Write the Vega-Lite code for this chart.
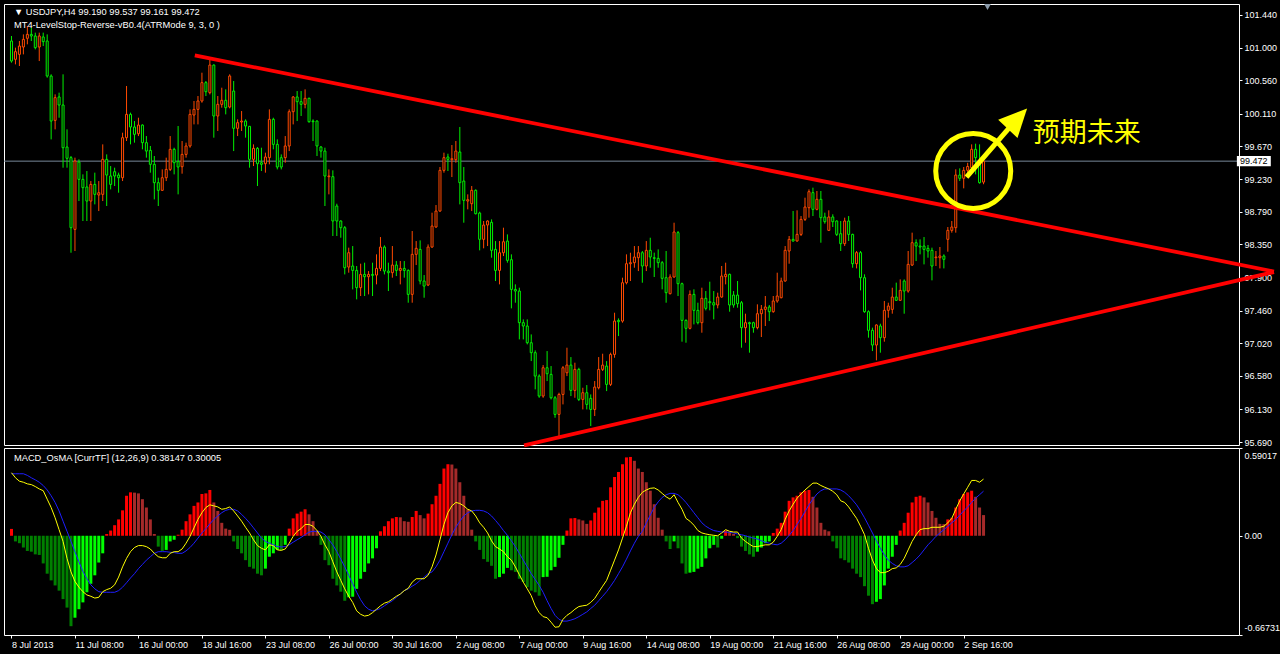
{
"$schema": "https://vega.github.io/schema/vega-lite/v6.json",
"background": "#000000",
"padding": {"left": 3, "top": 3, "right": 2, "bottom": 8},
"spacing": 3,
"bounds": "flush",
"config": {
 "view": {"stroke": "#FFFFFF", "strokeWidth": 1},
 "axis": {"labelFont": "Liberation Sans", "labelFontSize": 9, "labelColor": "#FFFFFF", "tickColor": "#FFFFFF", "tickSize": 3, "labelPadding": 2, "domain": false, "grid": false}
},
"datasets": {
"bars": [
{"i":0,"o":101.090,"h":101.157,"l":100.798,"c":100.820,"d":0.046,"m":0.424,"s":0.417},
{"i":1,"o":100.843,"h":101.000,"l":100.775,"c":100.946,"d":-0.038,"m":0.390,"s":0.417},
{"i":2,"o":100.910,"h":101.090,"l":100.753,"c":101.022,"d":-0.050,"m":0.367,"s":0.417},
{"i":3,"o":101.009,"h":101.179,"l":100.910,"c":101.112,"d":-0.079,"m":0.360,"s":0.417},
{"i":4,"o":101.126,"h":101.292,"l":101.045,"c":101.179,"d":-0.102,"m":0.349,"s":0.406},
{"i":5,"o":101.179,"h":101.269,"l":101.090,"c":101.157,"d":-0.107,"m":0.344,"s":0.390},
{"i":6,"o":101.157,"h":101.202,"l":100.977,"c":101.000,"d":-0.125,"m":0.331,"s":0.376},
{"i":7,"o":101.009,"h":101.202,"l":100.820,"c":101.157,"d":-0.129,"m":0.315,"s":0.360},
{"i":8,"o":101.144,"h":101.202,"l":101.022,"c":101.081,"d":-0.186,"m":0.303,"s":0.338},
{"i":9,"o":101.090,"h":101.179,"l":100.596,"c":100.618,"d":-0.255,"m":0.246,"s":0.308},
{"i":10,"o":100.618,"h":100.641,"l":99.765,"c":100.012,"d":-0.300,"m":0.190,"s":0.269},
{"i":11,"o":100.021,"h":100.371,"l":99.900,"c":100.327,"d":-0.334,"m":0.121,"s":0.224},
{"i":12,"o":100.336,"h":100.394,"l":100.057,"c":100.228,"d":-0.369,"m":0.041,"s":0.167},
{"i":13,"o":100.228,"h":100.641,"l":99.384,"c":99.653,"d":-0.426,"m":-0.038,"s":0.098},
{"i":14,"o":99.662,"h":99.900,"l":99.384,"c":99.510,"d":-0.483,"m":-0.152,"s":0.030},
{"i":15,"o":99.519,"h":99.541,"l":98.239,"c":98.576,"d":-0.608,"m":-0.243,"s":-0.038},
{"i":16,"o":98.553,"h":99.519,"l":98.262,"c":99.474,"d":-0.551,"m":-0.307,"s":-0.107},
{"i":17,"o":99.460,"h":99.496,"l":98.935,"c":99.227,"d":-0.494,"m":-0.346,"s":-0.175},
{"i":18,"o":99.227,"h":99.294,"l":98.666,"c":99.115,"d":-0.448,"m":-0.376,"s":-0.239},
{"i":19,"o":99.124,"h":99.339,"l":98.666,"c":98.935,"d":-0.380,"m":-0.398,"s":-0.289},
{"i":20,"o":98.935,"h":99.204,"l":98.666,"c":99.159,"d":-0.323,"m":-0.407,"s":-0.330},
{"i":21,"o":99.159,"h":99.317,"l":98.890,"c":99.025,"d":-0.266,"m":-0.419,"s":-0.357},
{"i":22,"o":99.016,"h":99.204,"l":98.800,"c":99.047,"d":-0.180,"m":-0.414,"s":-0.376},
{"i":23,"o":99.025,"h":99.698,"l":98.935,"c":99.496,"d":-0.118,"m":-0.376,"s":-0.380},
{"i":24,"o":99.496,"h":99.563,"l":98.868,"c":99.285,"d":0.012,"m":-0.362,"s":-0.380},
{"i":25,"o":99.272,"h":99.406,"l":99.092,"c":99.159,"d":0.035,"m":-0.353,"s":-0.380},
{"i":26,"o":99.330,"h":99.384,"l":99.137,"c":99.272,"d":0.071,"m":-0.330,"s":-0.380},
{"i":27,"o":99.285,"h":99.317,"l":99.047,"c":99.249,"d":0.110,"m":-0.278,"s":-0.369},
{"i":28,"o":99.249,"h":99.855,"l":99.204,"c":99.788,"d":0.171,"m":-0.209,"s":-0.346},
{"i":29,"o":99.788,"h":100.484,"l":99.743,"c":100.102,"d":0.269,"m":-0.152,"s":-0.316},
{"i":30,"o":100.102,"h":100.125,"l":99.698,"c":99.932,"d":0.292,"m":-0.107,"s":-0.284},
{"i":31,"o":99.932,"h":100.012,"l":99.721,"c":99.833,"d":0.290,"m":-0.079,"s":-0.255},
{"i":32,"o":99.841,"h":100.057,"l":99.810,"c":99.958,"d":0.285,"m":-0.066,"s":-0.221},
{"i":33,"o":99.958,"h":99.967,"l":99.631,"c":99.721,"d":0.246,"m":-0.066,"s":-0.193},
{"i":34,"o":99.721,"h":99.810,"l":99.519,"c":99.608,"d":0.190,"m":-0.073,"s":-0.164},
{"i":35,"o":99.617,"h":99.676,"l":99.317,"c":99.429,"d":0.110,"m":-0.089,"s":-0.141},
{"i":36,"o":99.429,"h":99.541,"l":98.957,"c":99.182,"d":0.012,"m":-0.118,"s":-0.118},
{"i":37,"o":99.182,"h":99.249,"l":98.868,"c":99.079,"d":-0.073,"m":-0.141,"s":-0.107},
{"i":38,"o":99.079,"h":99.361,"l":99.070,"c":99.249,"d":-0.102,"m":-0.148,"s":-0.107},
{"i":39,"o":99.249,"h":99.519,"l":99.204,"c":99.361,"d":-0.095,"m":-0.148,"s":-0.107},
{"i":40,"o":99.361,"h":99.810,"l":99.339,"c":99.631,"d":-0.038,"m":-0.118,"s":-0.111},
{"i":41,"o":99.631,"h":99.653,"l":99.294,"c":99.451,"d":-0.027,"m":-0.107,"s":-0.113},
{"i":42,"o":99.465,"h":99.945,"l":99.025,"c":99.393,"d":0.007,"m":-0.107,"s":-0.118},
{"i":43,"o":99.397,"h":99.743,"l":99.303,"c":99.563,"d":0.041,"m":-0.089,"s":-0.118},
{"i":44,"o":99.563,"h":99.721,"l":99.519,"c":99.676,"d":0.098,"m":-0.050,"s":-0.102},
{"i":45,"o":99.676,"h":100.169,"l":99.653,"c":100.102,"d":0.144,"m":-0.004,"s":-0.079},
{"i":46,"o":100.093,"h":100.282,"l":99.967,"c":100.169,"d":0.201,"m":0.053,"s":-0.050},
{"i":47,"o":100.169,"h":100.349,"l":99.967,"c":100.282,"d":0.224,"m":0.110,"s":-0.016},
{"i":48,"o":100.282,"h":100.663,"l":100.259,"c":100.529,"d":0.281,"m":0.155,"s":0.019},
{"i":49,"o":100.529,"h":100.551,"l":100.349,"c":100.407,"d":0.285,"m":0.190,"s":0.048},
{"i":50,"o":100.394,"h":100.843,"l":100.371,"c":100.766,"d":0.308,"m":0.208,"s":0.080},
{"i":51,"o":100.766,"h":100.775,"l":99.788,"c":100.080,"d":0.224,"m":0.201,"s":0.110},
{"i":52,"o":100.080,"h":100.349,"l":99.878,"c":100.237,"d":0.167,"m":0.194,"s":0.133},
{"i":53,"o":100.237,"h":100.461,"l":100.192,"c":100.291,"d":0.087,"m":0.178,"s":0.155},
{"i":54,"o":100.291,"h":100.439,"l":100.102,"c":100.192,"d":0.048,"m":0.183,"s":0.171},
{"i":55,"o":100.201,"h":100.641,"l":100.183,"c":100.618,"d":0.040,"m":0.194,"s":0.178},
{"i":56,"o":100.416,"h":100.551,"l":99.608,"c":99.914,"d":-0.038,"m":0.167,"s":0.178},
{"i":57,"o":99.914,"h":100.035,"l":99.810,"c":99.990,"d":-0.089,"m":0.133,"s":0.167},
{"i":58,"o":99.999,"h":100.147,"l":99.878,"c":100.012,"d":-0.118,"m":0.098,"s":0.144},
{"i":59,"o":100.012,"h":100.035,"l":99.788,"c":99.945,"d":-0.164,"m":0.057,"s":0.117},
{"i":60,"o":99.941,"h":99.945,"l":99.384,"c":99.496,"d":-0.209,"m":0.019,"s":0.087},
{"i":61,"o":99.496,"h":99.698,"l":99.406,"c":99.644,"d":-0.221,"m":-0.027,"s":0.053},
{"i":62,"o":99.644,"h":99.662,"l":99.137,"c":99.438,"d":-0.255,"m":-0.066,"s":0.019},
{"i":63,"o":99.451,"h":99.653,"l":99.339,"c":99.429,"d":-0.266,"m":-0.084,"s":-0.016},
{"i":64,"o":99.438,"h":99.586,"l":99.317,"c":99.528,"d":-0.221,"m":-0.095,"s":-0.038},
{"i":65,"o":99.519,"h":100.169,"l":99.429,"c":100.035,"d":-0.141,"m":-0.061,"s":-0.050},
{"i":66,"o":100.035,"h":100.057,"l":99.631,"c":99.698,"d":-0.118,"m":-0.066,"s":-0.061},
{"i":67,"o":99.698,"h":99.765,"l":99.361,"c":99.393,"d":-0.095,"m":-0.095,"s":-0.073},
{"i":68,"o":99.519,"h":99.563,"l":99.361,"c":99.393,"d":-0.098,"m":-0.098,"s":-0.075},
{"i":69,"o":99.519,"h":99.810,"l":99.451,"c":99.676,"d":-0.061,"m":-0.089,"s":-0.073},
{"i":70,"o":99.676,"h":100.169,"l":99.608,"c":100.138,"d":0.048,"m":-0.050,"s":-0.061},
{"i":71,"o":100.138,"h":100.349,"l":99.967,"c":100.336,"d":0.117,"m":-0.004,"s":-0.043},
{"i":72,"o":100.336,"h":100.416,"l":100.012,"c":100.273,"d":0.149,"m":0.030,"s":-0.027},
{"i":73,"o":100.273,"h":100.416,"l":100.080,"c":100.237,"d":0.162,"m":0.048,"s":-0.011},
{"i":74,"o":100.237,"h":100.439,"l":100.183,"c":100.318,"d":0.178,"m":0.076,"s":0.007},
{"i":75,"o":100.318,"h":100.327,"l":99.990,"c":100.003,"d":0.144,"m":0.076,"s":0.025},
{"i":76,"o":100.012,"h":100.035,"l":99.743,"c":100.003,"d":0.098,"m":0.064,"s":0.030},
{"i":77,"o":100.012,"h":100.021,"l":99.541,"c":99.676,"d":0.035,"m":0.035,"s":0.030},
{"i":78,"o":99.662,"h":99.676,"l":99.519,"c":99.608,"d":-0.061,"m":-0.004,"s":0.025},
{"i":79,"o":99.608,"h":99.653,"l":98.868,"c":99.272,"d":-0.164,"m":-0.061,"s":0.007},
{"i":80,"o":99.263,"h":99.361,"l":99.025,"c":99.272,"d":-0.198,"m":-0.107,"s":-0.027},
{"i":81,"o":99.263,"h":99.348,"l":98.464,"c":98.666,"d":-0.289,"m":-0.175,"s":-0.061},
{"i":82,"o":98.868,"h":98.899,"l":98.464,"c":98.666,"d":-0.334,"m":-0.243,"s":-0.107},
{"i":83,"o":98.666,"h":98.675,"l":98.441,"c":98.576,"d":-0.376,"m":-0.300,"s":-0.157},
{"i":84,"o":98.576,"h":98.598,"l":97.947,"c":98.037,"d":-0.437,"m":-0.357,"s":-0.209},
{"i":85,"o":98.046,"h":98.307,"l":97.970,"c":98.239,"d":-0.414,"m":-0.407,"s":-0.266},
{"i":86,"o":98.060,"h":98.329,"l":97.745,"c":98.001,"d":-0.410,"m":-0.448,"s":-0.323},
{"i":87,"o":98.001,"h":98.060,"l":97.611,"c":97.768,"d":-0.357,"m":-0.505,"s":-0.380},
{"i":88,"o":97.768,"h":98.091,"l":97.656,"c":97.947,"d":-0.289,"m":-0.528,"s":-0.430},
{"i":89,"o":97.947,"h":98.105,"l":97.656,"c":97.916,"d":-0.243,"m":-0.540,"s":-0.471},
{"i":90,"o":97.916,"h":97.992,"l":97.678,"c":97.947,"d":-0.186,"m":-0.535,"s":-0.494},
{"i":91,"o":97.947,"h":98.105,"l":97.656,"c":97.934,"d":-0.152,"m":-0.517,"s":-0.505},
{"i":92,"o":97.938,"h":98.217,"l":97.813,"c":98.028,"d":-0.084,"m":-0.494,"s":-0.499},
{"i":93,"o":98.028,"h":98.450,"l":97.992,"c":98.315,"d":0.030,"m":-0.471,"s":-0.489},
{"i":94,"o":98.315,"h":98.338,"l":97.947,"c":97.992,"d":0.064,"m":-0.453,"s":-0.471},
{"i":95,"o":97.992,"h":98.105,"l":97.723,"c":97.970,"d":0.098,"m":-0.444,"s":-0.453},
{"i":96,"o":97.970,"h":98.329,"l":97.903,"c":98.073,"d":0.117,"m":-0.426,"s":-0.437},
{"i":97,"o":98.073,"h":98.127,"l":97.925,"c":98.001,"d":0.126,"m":-0.407,"s":-0.414},
{"i":98,"o":98.001,"h":98.127,"l":97.813,"c":98.028,"d":0.124,"m":-0.392,"s":-0.392},
{"i":99,"o":98.028,"h":98.127,"l":97.903,"c":98.001,"d":0.098,"m":-0.369,"s":-0.369},
{"i":100,"o":98.001,"h":98.015,"l":97.566,"c":97.678,"d":0.094,"m":-0.353,"s":-0.357},
{"i":101,"o":97.678,"h":98.531,"l":97.566,"c":98.217,"d":0.126,"m":-0.312,"s":-0.339},
{"i":102,"o":98.217,"h":98.396,"l":98.073,"c":98.298,"d":0.167,"m":-0.289,"s":-0.323},
{"i":103,"o":98.284,"h":98.405,"l":97.813,"c":97.858,"d":0.139,"m":-0.289,"s":-0.300},
{"i":104,"o":97.858,"h":97.938,"l":97.633,"c":97.790,"d":0.117,"m":-0.289,"s":-0.278},
{"i":105,"o":97.804,"h":98.351,"l":97.790,"c":98.315,"d":0.149,"m":-0.266,"s":-0.255},
{"i":106,"o":98.315,"h":98.778,"l":98.307,"c":98.598,"d":0.212,"m":-0.209,"s":-0.243},
{"i":107,"o":98.585,"h":98.881,"l":98.576,"c":98.800,"d":0.269,"m":-0.129,"s":-0.209},
{"i":108,"o":98.800,"h":99.393,"l":98.791,"c":99.348,"d":0.349,"m":-0.027,"s":-0.164},
{"i":109,"o":99.348,"h":99.586,"l":99.317,"c":99.519,"d":0.452,"m":0.076,"s":-0.107},
{"i":110,"o":99.528,"h":99.572,"l":99.339,"c":99.496,"d":0.481,"m":0.155,"s":-0.050},
{"i":111,"o":99.492,"h":99.689,"l":99.258,"c":99.505,"d":0.479,"m":0.201,"s":0.007},
{"i":112,"o":99.492,"h":99.743,"l":99.451,"c":99.608,"d":0.452,"m":0.224,"s":0.057},
{"i":113,"o":99.595,"h":99.932,"l":98.890,"c":99.182,"d":0.360,"m":0.217,"s":0.098},
{"i":114,"o":99.204,"h":99.393,"l":98.643,"c":98.944,"d":0.269,"m":0.201,"s":0.133},
{"i":115,"o":98.935,"h":99.025,"l":98.823,"c":98.953,"d":0.178,"m":0.178,"s":0.155},
{"i":116,"o":98.899,"h":99.137,"l":98.800,"c":99.079,"d":0.041,"m":0.167,"s":0.167},
{"i":117,"o":99.079,"h":99.092,"l":98.755,"c":98.764,"d":-0.038,"m":0.133,"s":0.171},
{"i":118,"o":98.773,"h":98.791,"l":98.271,"c":98.419,"d":-0.095,"m":0.087,"s":0.171},
{"i":119,"o":98.419,"h":98.666,"l":98.298,"c":98.612,"d":-0.157,"m":0.057,"s":0.167},
{"i":120,"o":98.612,"h":98.675,"l":98.329,"c":98.666,"d":-0.175,"m":0.019,"s":0.155},
{"i":121,"o":98.648,"h":98.688,"l":98.172,"c":98.271,"d":-0.202,"m":-0.034,"s":0.133},
{"i":122,"o":98.284,"h":98.396,"l":97.858,"c":98.001,"d":-0.289,"m":-0.073,"s":0.103},
{"i":123,"o":98.001,"h":98.396,"l":97.813,"c":98.239,"d":-0.278,"m":-0.089,"s":0.071},
{"i":124,"o":98.239,"h":98.576,"l":98.194,"c":98.387,"d":-0.255,"m":-0.107,"s":0.035},
{"i":125,"o":98.396,"h":98.486,"l":98.105,"c":98.136,"d":-0.216,"m":-0.141,"s":0.003},
{"i":126,"o":98.145,"h":98.217,"l":97.490,"c":97.745,"d":-0.232,"m":-0.164,"s":-0.034},
{"i":127,"o":97.745,"h":97.813,"l":97.566,"c":97.723,"d":-0.243,"m":-0.209,"s":-0.073},
{"i":128,"o":97.723,"h":97.768,"l":97.072,"c":97.297,"d":-0.289,"m":-0.262,"s":-0.118},
{"i":129,"o":97.297,"h":97.341,"l":97.072,"c":97.252,"d":-0.312,"m":-0.312,"s":-0.164},
{"i":130,"o":97.252,"h":97.341,"l":97.005,"c":97.027,"d":-0.346,"m":-0.357,"s":-0.209},
{"i":131,"o":97.027,"h":97.139,"l":96.780,"c":96.893,"d":-0.369,"m":-0.403,"s":-0.255},
{"i":132,"o":96.893,"h":96.924,"l":96.399,"c":96.578,"d":-0.380,"m":-0.471,"s":-0.294},
{"i":133,"o":96.578,"h":96.601,"l":96.286,"c":96.309,"d":-0.403,"m":-0.517,"s":-0.334},
{"i":134,"o":96.309,"h":96.726,"l":96.286,"c":96.690,"d":-0.278,"m":-0.544,"s":-0.380},
{"i":135,"o":96.690,"h":96.915,"l":96.511,"c":96.610,"d":-0.276,"m":-0.551,"s":-0.437},
{"i":136,"o":96.601,"h":96.713,"l":96.264,"c":96.286,"d":-0.232,"m":-0.581,"s":-0.489},
{"i":137,"o":96.286,"h":96.309,"l":96.017,"c":96.062,"d":-0.209,"m":-0.615,"s":-0.535},
{"i":138,"o":96.062,"h":96.354,"l":95.770,"c":96.331,"d":-0.148,"m":-0.612,"s":-0.562},
{"i":139,"o":96.331,"h":96.713,"l":96.197,"c":96.690,"d":-0.061,"m":-0.562,"s":-0.574},
{"i":140,"o":96.623,"h":96.960,"l":96.578,"c":96.726,"d":0.035,"m":-0.535,"s":-0.574},
{"i":141,"o":96.726,"h":96.834,"l":96.309,"c":96.385,"d":0.117,"m":-0.517,"s":-0.567},
{"i":142,"o":96.385,"h":96.758,"l":96.286,"c":96.668,"d":0.119,"m":-0.494,"s":-0.558},
{"i":143,"o":96.668,"h":96.690,"l":96.242,"c":96.264,"d":0.110,"m":-0.476,"s":-0.544},
{"i":144,"o":96.264,"h":96.421,"l":96.129,"c":96.354,"d":0.103,"m":-0.471,"s":-0.528},
{"i":145,"o":96.354,"h":96.457,"l":96.129,"c":96.197,"d":0.080,"m":-0.467,"s":-0.512},
{"i":146,"o":96.278,"h":96.331,"l":95.905,"c":96.129,"d":0.103,"m":-0.448,"s":-0.489},
{"i":147,"o":96.129,"h":96.511,"l":96.040,"c":96.430,"d":0.155,"m":-0.421,"s":-0.467},
{"i":148,"o":96.421,"h":96.834,"l":96.399,"c":96.668,"d":0.190,"m":-0.380,"s":-0.437},
{"i":149,"o":96.668,"h":96.879,"l":96.646,"c":96.726,"d":0.235,"m":-0.339,"s":-0.407},
{"i":150,"o":96.713,"h":96.780,"l":96.376,"c":96.466,"d":0.240,"m":-0.300,"s":-0.376},
{"i":151,"o":96.466,"h":96.893,"l":96.444,"c":96.870,"d":0.326,"m":-0.232,"s":-0.339},
{"i":152,"o":96.870,"h":97.431,"l":96.825,"c":97.319,"d":0.395,"m":-0.164,"s":-0.300},
{"i":153,"o":97.328,"h":97.355,"l":97.117,"c":97.310,"d":0.429,"m":-0.095,"s":-0.255},
{"i":154,"o":97.319,"h":97.903,"l":97.297,"c":97.835,"d":0.481,"m":-0.016,"s":-0.209},
{"i":155,"o":97.835,"h":98.217,"l":97.813,"c":98.091,"d":0.527,"m":0.064,"s":-0.157},
{"i":156,"o":98.091,"h":98.239,"l":97.858,"c":98.105,"d":0.530,"m":0.155,"s":-0.102},
{"i":157,"o":98.105,"h":98.329,"l":98.037,"c":98.181,"d":0.504,"m":0.212,"s":-0.050},
{"i":158,"o":98.172,"h":98.329,"l":97.992,"c":98.239,"d":0.452,"m":0.258,"s":-0.004},
{"i":159,"o":98.239,"h":98.262,"l":97.835,"c":98.060,"d":0.429,"m":0.292,"s":0.030},
{"i":160,"o":98.060,"h":98.396,"l":97.992,"c":98.271,"d":0.360,"m":0.308,"s":0.087},
{"i":161,"o":98.271,"h":98.441,"l":98.037,"c":98.181,"d":0.303,"m":0.319,"s":0.139},
{"i":162,"o":98.172,"h":98.240,"l":97.912,"c":98.163,"d":0.212,"m":0.322,"s":0.190},
{"i":163,"o":98.163,"h":98.284,"l":98.037,"c":98.105,"d":0.121,"m":0.308,"s":0.228},
{"i":164,"o":98.105,"h":98.127,"l":97.746,"c":97.894,"d":0.041,"m":0.285,"s":0.258},
{"i":165,"o":97.903,"h":98.262,"l":97.566,"c":97.701,"d":-0.038,"m":0.262,"s":0.276},
{"i":166,"o":97.687,"h":97.948,"l":97.678,"c":97.912,"d":-0.089,"m":0.246,"s":0.285},
{"i":167,"o":97.912,"h":98.643,"l":97.903,"c":98.518,"d":-0.038,"m":0.276,"s":0.285},
{"i":168,"o":98.509,"h":98.531,"l":97.656,"c":97.822,"d":-0.084,"m":0.224,"s":0.276},
{"i":169,"o":97.822,"h":97.836,"l":97.041,"c":97.328,"d":-0.186,"m":0.178,"s":0.253},
{"i":170,"o":97.328,"h":97.342,"l":97.027,"c":97.221,"d":-0.255,"m":0.117,"s":0.224},
{"i":171,"o":97.221,"h":97.732,"l":97.207,"c":97.678,"d":-0.248,"m":0.098,"s":0.190},
{"i":172,"o":97.678,"h":97.746,"l":97.274,"c":97.463,"d":-0.243,"m":0.071,"s":0.155},
{"i":173,"o":97.463,"h":97.566,"l":97.274,"c":97.297,"d":-0.221,"m":0.035,"s":0.121},
{"i":174,"o":97.297,"h":97.768,"l":97.162,"c":97.625,"d":-0.209,"m":0.019,"s":0.087},
{"i":175,"o":97.625,"h":97.723,"l":97.463,"c":97.490,"d":-0.152,"m":0.012,"s":0.064},
{"i":176,"o":97.580,"h":97.849,"l":97.463,"c":97.566,"d":-0.084,"m":0.007,"s":0.048},
{"i":177,"o":97.566,"h":97.723,"l":97.342,"c":97.535,"d":-0.061,"m":0.003,"s":0.035},
{"i":178,"o":97.535,"h":97.701,"l":97.490,"c":97.642,"d":-0.079,"m":0.000,"s":0.030},
{"i":179,"o":97.642,"h":98.060,"l":97.633,"c":97.925,"d":-0.020,"m":0.019,"s":0.025},
{"i":180,"o":97.916,"h":98.105,"l":97.813,"c":97.948,"d":0.035,"m":0.041,"s":0.025},
{"i":181,"o":97.948,"h":97.957,"l":97.445,"c":97.535,"d":0.025,"m":0.030,"s":0.023},
{"i":182,"o":97.669,"h":97.723,"l":97.499,"c":97.535,"d":0.012,"m":0.025,"s":0.019},
{"i":183,"o":97.669,"h":97.858,"l":97.499,"c":97.553,"d":-0.016,"m":0.025,"s":0.012},
{"i":184,"o":97.566,"h":97.589,"l":96.960,"c":97.230,"d":-0.073,"m":-0.016,"s":0.007},
{"i":185,"o":97.230,"h":97.418,"l":97.027,"c":97.297,"d":-0.102,"m":-0.038,"s":0.000},
{"i":186,"o":97.297,"h":97.310,"l":96.893,"c":97.283,"d":-0.125,"m":-0.057,"s":-0.009},
{"i":187,"o":97.297,"h":97.310,"l":97.162,"c":97.230,"d":-0.141,"m":-0.073,"s":-0.016},
{"i":188,"o":97.230,"h":97.544,"l":97.207,"c":97.418,"d":-0.107,"m":-0.073,"s":-0.022},
{"i":189,"o":97.418,"h":97.535,"l":97.104,"c":97.476,"d":-0.079,"m":-0.066,"s":-0.034},
{"i":190,"o":97.476,"h":97.656,"l":97.252,"c":97.508,"d":-0.050,"m":-0.061,"s":-0.043},
{"i":191,"o":97.508,"h":97.535,"l":97.319,"c":97.445,"d":-0.038,"m":-0.061,"s":-0.050},
{"i":192,"o":97.445,"h":97.656,"l":97.431,"c":97.589,"d":0.019,"m":-0.043,"s":-0.057},
{"i":193,"o":97.589,"h":97.970,"l":97.566,"c":97.656,"d":0.048,"m":-0.004,"s":-0.061},
{"i":194,"o":97.633,"h":97.903,"l":97.625,"c":97.858,"d":0.087,"m":0.041,"s":-0.050},
{"i":195,"o":97.858,"h":98.329,"l":97.849,"c":98.271,"d":0.162,"m":0.110,"s":-0.027},
{"i":196,"o":98.262,"h":98.464,"l":98.091,"c":98.419,"d":0.235,"m":0.167,"s":0.003},
{"i":197,"o":98.419,"h":98.801,"l":98.388,"c":98.397,"d":0.258,"m":0.212,"s":0.035},
{"i":198,"o":98.397,"h":98.810,"l":98.388,"c":98.486,"d":0.269,"m":0.253,"s":0.076},
{"i":199,"o":98.486,"h":98.733,"l":98.464,"c":98.688,"d":0.292,"m":0.281,"s":0.117},
{"i":200,"o":98.688,"h":98.980,"l":98.666,"c":98.854,"d":0.303,"m":0.308,"s":0.162},
{"i":201,"o":98.845,"h":99.092,"l":98.711,"c":99.061,"d":0.308,"m":0.331,"s":0.208},
{"i":202,"o":99.048,"h":99.115,"l":98.733,"c":98.823,"d":0.262,"m":0.354,"s":0.246},
{"i":203,"o":98.823,"h":99.070,"l":98.810,"c":98.958,"d":0.190,"m":0.354,"s":0.281},
{"i":204,"o":98.958,"h":99.070,"l":98.374,"c":98.711,"d":0.087,"m":0.338,"s":0.303},
{"i":205,"o":98.720,"h":98.778,"l":98.630,"c":98.657,"d":0.041,"m":0.326,"s":0.315},
{"i":206,"o":98.540,"h":98.810,"l":98.531,"c":98.720,"d":0.030,"m":0.315,"s":0.315},
{"i":207,"o":98.720,"h":98.756,"l":98.585,"c":98.657,"d":-0.038,"m":0.299,"s":0.315},
{"i":208,"o":98.666,"h":98.675,"l":98.464,"c":98.486,"d":-0.084,"m":0.276,"s":0.315},
{"i":209,"o":98.495,"h":98.666,"l":98.262,"c":98.361,"d":-0.152,"m":0.235,"s":0.308},
{"i":210,"o":98.361,"h":98.711,"l":98.329,"c":98.666,"d":-0.164,"m":0.224,"s":0.292},
{"i":211,"o":98.666,"h":98.733,"l":98.397,"c":98.486,"d":-0.180,"m":0.194,"s":0.269},
{"i":212,"o":98.486,"h":98.495,"l":98.037,"c":98.091,"d":-0.221,"m":0.155,"s":0.240},
{"i":213,"o":98.091,"h":98.262,"l":98.028,"c":98.240,"d":-0.255,"m":0.117,"s":0.208},
{"i":214,"o":98.240,"h":98.262,"l":97.732,"c":97.903,"d":-0.278,"m":0.064,"s":0.167},
{"i":215,"o":97.903,"h":97.948,"l":97.431,"c":97.445,"d":-0.339,"m":0.007,"s":0.121},
{"i":216,"o":97.445,"h":97.463,"l":97.095,"c":97.194,"d":-0.403,"m":-0.084,"s":0.071},
{"i":217,"o":97.194,"h":97.230,"l":96.915,"c":96.996,"d":-0.460,"m":-0.164,"s":0.019},
{"i":218,"o":96.996,"h":97.274,"l":96.790,"c":97.266,"d":-0.444,"m":-0.221,"s":-0.034},
{"i":219,"o":97.252,"h":97.283,"l":96.893,"c":97.095,"d":-0.426,"m":-0.248,"s":-0.084},
{"i":220,"o":97.095,"h":97.589,"l":97.041,"c":97.463,"d":-0.334,"m":-0.248,"s":-0.129},
{"i":221,"o":97.463,"h":97.566,"l":97.364,"c":97.521,"d":-0.221,"m":-0.239,"s":-0.164},
{"i":222,"o":97.476,"h":97.768,"l":97.418,"c":97.642,"d":-0.141,"m":-0.221,"s":-0.186},
{"i":223,"o":97.642,"h":97.836,"l":97.589,"c":97.598,"d":-0.061,"m":-0.216,"s":-0.202},
{"i":224,"o":97.598,"h":97.880,"l":97.589,"c":97.732,"d":0.035,"m":-0.193,"s":-0.209},
{"i":225,"o":97.858,"h":97.880,"l":97.418,"c":97.723,"d":0.087,"m":-0.152,"s":-0.209},
{"i":226,"o":97.723,"h":98.262,"l":97.701,"c":98.082,"d":0.155,"m":-0.095,"s":-0.202},
{"i":227,"o":98.073,"h":98.509,"l":98.060,"c":98.374,"d":0.224,"m":-0.038,"s":-0.180},
{"i":228,"o":98.374,"h":98.419,"l":98.127,"c":98.329,"d":0.262,"m":0.007,"s":-0.157},
{"i":229,"o":98.329,"h":98.419,"l":98.217,"c":98.316,"d":0.269,"m":0.041,"s":-0.129},
{"i":230,"o":98.329,"h":98.450,"l":98.082,"c":98.284,"d":0.258,"m":0.048,"s":-0.095},
{"i":231,"o":98.298,"h":98.343,"l":98.172,"c":98.262,"d":0.224,"m":0.048,"s":-0.061},
{"i":232,"o":98.271,"h":98.307,"l":97.867,"c":98.060,"d":0.167,"m":0.057,"s":-0.034},
{"i":233,"o":98.172,"h":98.262,"l":98.060,"c":98.181,"d":0.121,"m":0.057,"s":-0.004},
{"i":234,"o":98.172,"h":98.316,"l":98.028,"c":98.195,"d":0.080,"m":0.057,"s":0.019},
{"i":235,"o":98.195,"h":98.217,"l":98.028,"c":98.150,"d":0.078,"m":0.064,"s":0.041},
{"i":236,"o":98.419,"h":98.585,"l":98.253,"c":98.540,"d":0.110,"m":0.087,"s":0.064},
{"i":237,"o":98.540,"h":98.666,"l":98.509,"c":98.585,"d":0.121,"m":0.117,"s":0.087},
{"i":238,"o":98.576,"h":99.362,"l":98.509,"c":99.285,"d":0.190,"m":0.178,"s":0.110},
{"i":239,"o":99.285,"h":99.375,"l":99.205,"c":99.241,"d":0.246,"m":0.235,"s":0.139},
{"i":240,"o":99.241,"h":99.393,"l":99.106,"c":99.348,"d":0.281,"m":0.281,"s":0.167},
{"i":241,"o":99.348,"h":99.450,"l":99.300,"c":99.400,"d":0.292,"m":0.326,"s":0.194},
{"i":242,"o":99.384,"h":99.698,"l":99.362,"c":99.631,"d":0.303,"m":0.372,"s":0.224},
{"i":243,"o":99.631,"h":99.707,"l":99.294,"c":99.519,"d":0.262,"m":0.372,"s":0.253},
{"i":244,"o":99.452,"h":99.698,"l":99.169,"c":99.182,"d":0.190,"m":0.360,"s":0.276},
{"i":245,"o":99.190,"h":99.537,"l":99.161,"c":99.472,"d":0.139,"m":0.381,"s":0.300}
]
},
"vconcat": [
{
 "width": 1235,
 "height": 441,
 "layer": [
  {
   "data": {"values": [{"p": 99.472}]},
   "mark": {"type": "rule", "color": "#778899", "strokeWidth": 1},
   "encoding": {"y": {"field": "p", "type": "quantitative", "scale": {"domain": [95.65, 101.588], "nice": false, "zero": false},
      "axis": {"orient": "right", "title": null, "values": [95.69, 96.13, 96.58, 97.02, 97.46, 97.9, 98.35, 98.79, 99.23, 99.67, 100.11, 100.56, 101.0, 101.44], "format": ".3f", "labelFlush": false, "labelBound": false, "labelOverlap": false, "tickSize": 3, "labelPadding": 2}}}
  },
  {
   "data": {"name": "bars"},
   "mark": {"type": "rule", "strokeWidth": 1},
   "encoding": {
    "x": {"field": "i", "type": "quantitative", "scale": {"domain": [-0.625, 308.125], "nice": false, "zero": false}, "axis": null},
    "y": {"field": "l", "type": "quantitative", "scale": {"domain": [95.65, 101.588], "nice": false, "zero": false},
      "axis": {"orient": "right", "title": null, "values": [95.69, 96.13, 96.58, 97.02, 97.46, 97.9, 98.35, 98.79, 99.23, 99.67, 100.11, 100.56, 101.0, 101.44], "format": ".3f", "labelFlush": false, "labelBound": false, "labelOverlap": false, "tickSize": 3, "labelPadding": 2}},
    "y2": {"field": "h"},
    "color": {"condition": {"test": "datum.c >= datum.o", "value": "#FF4A00"}, "value": "#00F000"}
   }
  },
  {
   "data": {"name": "bars"},
   "mark": {"type": "bar", "size": 2, "fill": "#000000", "strokeWidth": 1},
   "encoding": {
    "x": {"field": "i", "type": "quantitative", "scale": {"domain": [-0.625, 308.125], "nice": false, "zero": false}, "axis": null},
    "y": {"field": "o", "type": "quantitative", "scale": {"domain": [95.65, 101.588], "nice": false, "zero": false},
      "axis": {"orient": "right", "title": null, "values": [95.69, 96.13, 96.58, 97.02, 97.46, 97.9, 98.35, 98.79, 99.23, 99.67, 100.11, 100.56, 101.0, 101.44], "format": ".3f", "labelFlush": false, "labelBound": false, "labelOverlap": false, "tickSize": 3, "labelPadding": 2}},
    "y2": {"field": "c"},
    "stroke": {"condition": {"test": "datum.c >= datum.o", "value": "#FF4A00"}, "value": "#00F000"}
   }
  },
  {
   "data": {"values": [{"x": 0.625, "y": 101.48, "t": "▼ USDJPY,H4  99.190 99.537 99.161 99.472"}, {"x": 0.625, "y": 101.305, "t": "MT4-LevelStop-Reverse-vB0.4(ATRMode 9, 3, 0 )"}]},
   "mark": {"type": "text", "color": "#FFFFFF", "font": "Liberation Sans", "fontSize": 9.3, "align": "left", "baseline": "middle"},
   "encoding": {
    "x": {"field": "x", "type": "quantitative", "scale": {"domain": [-0.625, 308.125], "nice": false, "zero": false}, "axis": null},
    "y": {"field": "y", "type": "quantitative", "scale": {"domain": [95.65, 101.588], "nice": false, "zero": false},
      "axis": {"orient": "right", "title": null, "values": [95.69, 96.13, 96.58, 97.02, 97.46, 97.9, 98.35, 98.79, 99.23, 99.67, 100.11, 100.56, 101.0, 101.44], "format": ".3f", "labelFlush": false, "labelBound": false, "labelOverlap": false, "tickSize": 3, "labelPadding": 2}},
    "text": {"field": "t"}
   }
  },
  {
   "data": {"values": [{"x": 46.2, "y": 100.897, "x2": 318.2, "y2": 97.986}, {"x": 129.2, "y": 95.646, "x2": 318.2, "y2": 97.979}]},
   "mark": {"type": "rule", "color": "#FF0000", "strokeWidth": 3.8, "clip": false},
   "encoding": {
    "x": {"field": "x", "type": "quantitative", "scale": {"domain": [-0.625, 308.125], "nice": false, "zero": false}, "axis": null},
    "x2": {"field": "x2"},
    "y": {"field": "y", "type": "quantitative", "scale": {"domain": [95.65, 101.588], "nice": false, "zero": false},
      "axis": {"orient": "right", "title": null, "values": [95.69, 96.13, 96.58, 97.02, 97.46, 97.9, 98.35, 98.79, 99.23, 99.67, 100.11, 100.56, 101.0, 101.44], "format": ".3f", "labelFlush": false, "labelBound": false, "labelOverlap": false, "tickSize": 3, "labelPadding": 2}},
    "y2": {"field": "y2"}
   }
  },
  {
   "data": {"values": [{"x": 308.85, "x2": 317.4, "y": 99.402, "y2": 99.542}]},
   "mark": {"type": "rect", "fill": "#FFFFFF", "clip": false},
   "encoding": {
    "x": {"field": "x", "type": "quantitative", "scale": {"domain": [-0.625, 308.125], "nice": false, "zero": false}, "axis": null},
    "x2": {"field": "x2"},
    "y": {"field": "y", "type": "quantitative", "scale": {"domain": [95.65, 101.588], "nice": false, "zero": false},
      "axis": {"orient": "right", "title": null, "values": [95.69, 96.13, 96.58, 97.02, 97.46, 97.9, 98.35, 98.79, 99.23, 99.67, 100.11, 100.56, 101.0, 101.44], "format": ".3f", "labelFlush": false, "labelBound": false, "labelOverlap": false, "tickSize": 3, "labelPadding": 2}},
    "y2": {"field": "y2"}
   }
  },
  {
   "data": {"values": [{"x": 313.1, "p": 99.472, "t": "99.472"}]},
   "mark": {"type": "text", "color": "#000000", "font": "Liberation Sans", "fontSize": 9, "align": "center", "baseline": "middle", "clip": false},
   "encoding": {
    "x": {"field": "x", "type": "quantitative", "scale": {"domain": [-0.625, 308.125], "nice": false, "zero": false}, "axis": null},
    "y": {"field": "p", "type": "quantitative", "scale": {"domain": [95.65, 101.588], "nice": false, "zero": false},
      "axis": {"orient": "right", "title": null, "values": [95.69, 96.13, 96.58, 97.02, 97.46, 97.9, 98.35, 98.79, 99.23, 99.67, 100.11, 100.56, 101.0, 101.44], "format": ".3f", "labelFlush": false, "labelBound": false, "labelOverlap": false, "tickSize": 3, "labelPadding": 2}},
    "text": {"field": "t"}
   }
  },
  {
   "data": {"values": [{"x": 242.4, "y": 99.339}]},
   "mark": {"type": "point", "shape": "circle", "size": 5625, "filled": false, "color": "#FFFF00", "strokeWidth": 5, "opacity": 1},
   "encoding": {
    "x": {"field": "x", "type": "quantitative", "scale": {"domain": [-0.625, 308.125], "nice": false, "zero": false}, "axis": null},
    "y": {"field": "y", "type": "quantitative", "scale": {"domain": [95.65, 101.588], "nice": false, "zero": false},
      "axis": {"orient": "right", "title": null, "values": [95.69, 96.13, 96.58, 97.02, 97.46, 97.9, 98.35, 98.79, 99.23, 99.67, 100.11, 100.56, 101.0, 101.44], "format": ".3f", "labelFlush": false, "labelBound": false, "labelOverlap": false, "tickSize": 3, "labelPadding": 2}}
   }
  },
  {
   "data": {"values": [{"x": 240.7, "y": 99.258, "x2": 251.3, "y2": 99.91}]},
   "mark": {"type": "rule", "color": "#FFFF00", "strokeWidth": 5, "strokeCap": "butt"},
   "encoding": {
    "x": {"field": "x", "type": "quantitative", "scale": {"domain": [-0.625, 308.125], "nice": false, "zero": false}, "axis": null},
    "x2": {"field": "x2"},
    "y": {"field": "y", "type": "quantitative", "scale": {"domain": [95.65, 101.588], "nice": false, "zero": false},
      "axis": {"orient": "right", "title": null, "values": [95.69, 96.13, 96.58, 97.02, 97.46, 97.9, 98.35, 98.79, 99.23, 99.67, 100.11, 100.56, 101.0, 101.44], "format": ".3f", "labelFlush": false, "labelBound": false, "labelOverlap": false, "tickSize": 3, "labelPadding": 2}},
    "y2": {"field": "y2"}
   }
  },
  {
   "data": {"values": [{"x": 253.55, "y": 100.044}]},
   "mark": {"type": "point", "shape": "M0,-1L0.95,1L-0.95,1Z", "size": 784, "filled": true, "color": "#FFFF00", "opacity": 1, "angle": 43.5},
   "encoding": {
    "x": {"field": "x", "type": "quantitative", "scale": {"domain": [-0.625, 308.125], "nice": false, "zero": false}, "axis": null},
    "y": {"field": "y", "type": "quantitative", "scale": {"domain": [95.65, 101.588], "nice": false, "zero": false},
      "axis": {"orient": "right", "title": null, "values": [95.69, 96.13, 96.58, 97.02, 97.46, 97.9, 98.35, 98.79, 99.23, 99.67, 100.11, 100.56, 101.0, 101.44], "format": ".3f", "labelFlush": false, "labelBound": false, "labelOverlap": false, "tickSize": 3, "labelPadding": 2}}
   }
  },
  {
   "data": {"values": [{"x": 257.4, "y": 99.831, "t": "预期未来"}]},
   "mark": {"type": "text", "color": "#FFFF00", "font": "Noto Sans CJK SC", "fontSize": 27, "align": "left", "baseline": "middle"},
   "encoding": {
    "x": {"field": "x", "type": "quantitative", "scale": {"domain": [-0.625, 308.125], "nice": false, "zero": false}, "axis": null},
    "y": {"field": "y", "type": "quantitative", "scale": {"domain": [95.65, 101.588], "nice": false, "zero": false},
      "axis": {"orient": "right", "title": null, "values": [95.69, 96.13, 96.58, 97.02, 97.46, 97.9, 98.35, 98.79, 99.23, 99.67, 100.11, 100.56, 101.0, 101.44], "format": ".3f", "labelFlush": false, "labelBound": false, "labelOverlap": false, "tickSize": 3, "labelPadding": 2}},
    "text": {"field": "t"}
   }
  },
  {
   "data": {"values": [{"x": 246, "y": 101.548}]},
   "mark": {"type": "point", "shape": "triangle-down", "size": 45, "filled": true, "color": "#8A9AAA", "opacity": 1},
   "encoding": {
    "x": {"field": "x", "type": "quantitative", "scale": {"domain": [-0.625, 308.125], "nice": false, "zero": false}, "axis": null},
    "y": {"field": "y", "type": "quantitative", "scale": {"domain": [95.65, 101.588], "nice": false, "zero": false},
      "axis": {"orient": "right", "title": null, "values": [95.69, 96.13, 96.58, 97.02, 97.46, 97.9, 98.35, 98.79, 99.23, 99.67, 100.11, 100.56, 101.0, 101.44], "format": ".3f", "labelFlush": false, "labelBound": false, "labelOverlap": false, "tickSize": 3, "labelPadding": 2}}
   }
  }
 ]
},
{
 "width": 1235,
 "height": 187,
 "layer": [
  {
   "data": {"name": "bars"},
   "transform": [
    {"window": [{"op": "lag", "field": "d", "as": "pd"}], "sort": [{"field": "i", "order": "ascending"}]},
    {"calculate": "datum.d >= 0 ? ((datum.pd == null || datum.d >= datum.pd) ? 'up+' : 'dn+') : ((datum.pd == null || datum.d >= datum.pd) ? 'up-' : 'dn-')", "as": "k"}
   ],
   "mark": {"type": "bar", "size": 3},
   "encoding": {
    "x": {"field": "i", "type": "quantitative", "scale": {"domain": [-0.625, 308.125], "nice": false, "zero": false},
          "axis": {"orient": "bottom", "title": null, "values": [0, 16, 32, 48, 64, 80, 96, 112, 128, 144, 160, 176, 192, 208, 224, 240], "labelExpr": "['8 Jul 2013','11 Jul 08:00','16 Jul 00:00','18 Jul 16:00','23 Jul 08:00','26 Jul 00:00','30 Jul 16:00','2 Aug 08:00','7 Aug 00:00','9 Aug 16:00','14 Aug 08:00','19 Aug 00:00','21 Aug 16:00','26 Aug 08:00','29 Aug 00:00','2 Sep 16:00'][round(datum.value / 16)]", "labelAlign": "left", "labelBaseline": "top", "labelFlush": false, "labelBound": false, "labelOverlap": false, "tickSize": 3, "labelPadding": 2, "labelDx": -1}},
    "y": {"field": "d", "type": "quantitative", "scale": {"domain": [-0.66731, 0.59017], "nice": false, "zero": false},
          "axis": {"orient": "right", "title": null, "values": [-0.66731, 0, 0.59017], "labelExpr": "datum.value == 0 ? '0.00' : ((datum.value < 0 ? '-' : '') + format(abs(datum.value), '.5f'))", "labelFlush": true, "labelFlushOffset": -3, "labelBound": false, "labelOverlap": false, "tickSize": 3, "labelPadding": 2}},
    "y2": {"datum": 0},
    "color": {"field": "k", "type": "nominal", "scale": {"domain": ["up+", "dn+", "up-", "dn-"], "range": ["#FF0000", "#A52A2A", "#00FF00", "#008000"]}, "legend": null}
   }
  },
  {
   "data": {"name": "bars"},
   "mark": {"type": "line", "color": "#1E1EFF", "strokeWidth": 1},
   "encoding": {
    "x": {"field": "i", "type": "quantitative", "scale": {"domain": [-0.625, 308.125], "nice": false, "zero": false},
          "axis": {"orient": "bottom", "title": null, "values": [0, 16, 32, 48, 64, 80, 96, 112, 128, 144, 160, 176, 192, 208, 224, 240], "labelExpr": "['8 Jul 2013','11 Jul 08:00','16 Jul 00:00','18 Jul 16:00','23 Jul 08:00','26 Jul 00:00','30 Jul 16:00','2 Aug 08:00','7 Aug 00:00','9 Aug 16:00','14 Aug 08:00','19 Aug 00:00','21 Aug 16:00','26 Aug 08:00','29 Aug 00:00','2 Sep 16:00'][round(datum.value / 16)]", "labelAlign": "left", "labelBaseline": "top", "labelFlush": false, "labelBound": false, "labelOverlap": false, "tickSize": 3, "labelPadding": 2, "labelDx": -1}},
    "y": {"field": "s", "type": "quantitative", "scale": {"domain": [-0.66731, 0.59017], "nice": false, "zero": false},
          "axis": {"orient": "right", "title": null, "values": [-0.66731, 0, 0.59017], "labelExpr": "datum.value == 0 ? '0.00' : ((datum.value < 0 ? '-' : '') + format(abs(datum.value), '.5f'))", "labelFlush": true, "labelFlushOffset": -3, "labelBound": false, "labelOverlap": false, "tickSize": 3, "labelPadding": 2}}
   }
  },
  {
   "data": {"name": "bars"},
   "mark": {"type": "line", "color": "#FFFF00", "strokeWidth": 1},
   "encoding": {
    "x": {"field": "i", "type": "quantitative", "scale": {"domain": [-0.625, 308.125], "nice": false, "zero": false},
          "axis": {"orient": "bottom", "title": null, "values": [0, 16, 32, 48, 64, 80, 96, 112, 128, 144, 160, 176, 192, 208, 224, 240], "labelExpr": "['8 Jul 2013','11 Jul 08:00','16 Jul 00:00','18 Jul 16:00','23 Jul 08:00','26 Jul 00:00','30 Jul 16:00','2 Aug 08:00','7 Aug 00:00','9 Aug 16:00','14 Aug 08:00','19 Aug 00:00','21 Aug 16:00','26 Aug 08:00','29 Aug 00:00','2 Sep 16:00'][round(datum.value / 16)]", "labelAlign": "left", "labelBaseline": "top", "labelFlush": false, "labelBound": false, "labelOverlap": false, "tickSize": 3, "labelPadding": 2, "labelDx": -1}},
    "y": {"field": "m", "type": "quantitative", "scale": {"domain": [-0.66731, 0.59017], "nice": false, "zero": false},
          "axis": {"orient": "right", "title": null, "values": [-0.66731, 0, 0.59017], "labelExpr": "datum.value == 0 ? '0.00' : ((datum.value < 0 ? '-' : '') + format(abs(datum.value), '.5f'))", "labelFlush": true, "labelFlushOffset": -3, "labelBound": false, "labelOverlap": false, "tickSize": 3, "labelPadding": 2}}
   }
  },
  {
   "data": {"values": [{"x": 0.625, "y": 0.5249, "t": "MACD_OsMA [CurrTF] (12,26,9) 0.38147 0.30005"}]},
   "mark": {"type": "text", "color": "#FFFFFF", "font": "Liberation Sans", "fontSize": 9.3, "align": "left", "baseline": "middle"},
   "encoding": {
    "x": {"field": "x", "type": "quantitative", "scale": {"domain": [-0.625, 308.125], "nice": false, "zero": false},
          "axis": {"orient": "bottom", "title": null, "values": [0, 16, 32, 48, 64, 80, 96, 112, 128, 144, 160, 176, 192, 208, 224, 240], "labelExpr": "['8 Jul 2013','11 Jul 08:00','16 Jul 00:00','18 Jul 16:00','23 Jul 08:00','26 Jul 00:00','30 Jul 16:00','2 Aug 08:00','7 Aug 00:00','9 Aug 16:00','14 Aug 08:00','19 Aug 00:00','21 Aug 16:00','26 Aug 08:00','29 Aug 00:00','2 Sep 16:00'][round(datum.value / 16)]", "labelAlign": "left", "labelBaseline": "top", "labelFlush": false, "labelBound": false, "labelOverlap": false, "tickSize": 3, "labelPadding": 2, "labelDx": -1}},
    "y": {"field": "y", "type": "quantitative", "scale": {"domain": [-0.66731, 0.59017], "nice": false, "zero": false},
          "axis": {"orient": "right", "title": null, "values": [-0.66731, 0, 0.59017], "labelExpr": "datum.value == 0 ? '0.00' : ((datum.value < 0 ? '-' : '') + format(abs(datum.value), '.5f'))", "labelFlush": true, "labelFlushOffset": -3, "labelBound": false, "labelOverlap": false, "tickSize": 3, "labelPadding": 2}},
    "text": {"field": "t"}
   }
  }
 ]
}
]
}
